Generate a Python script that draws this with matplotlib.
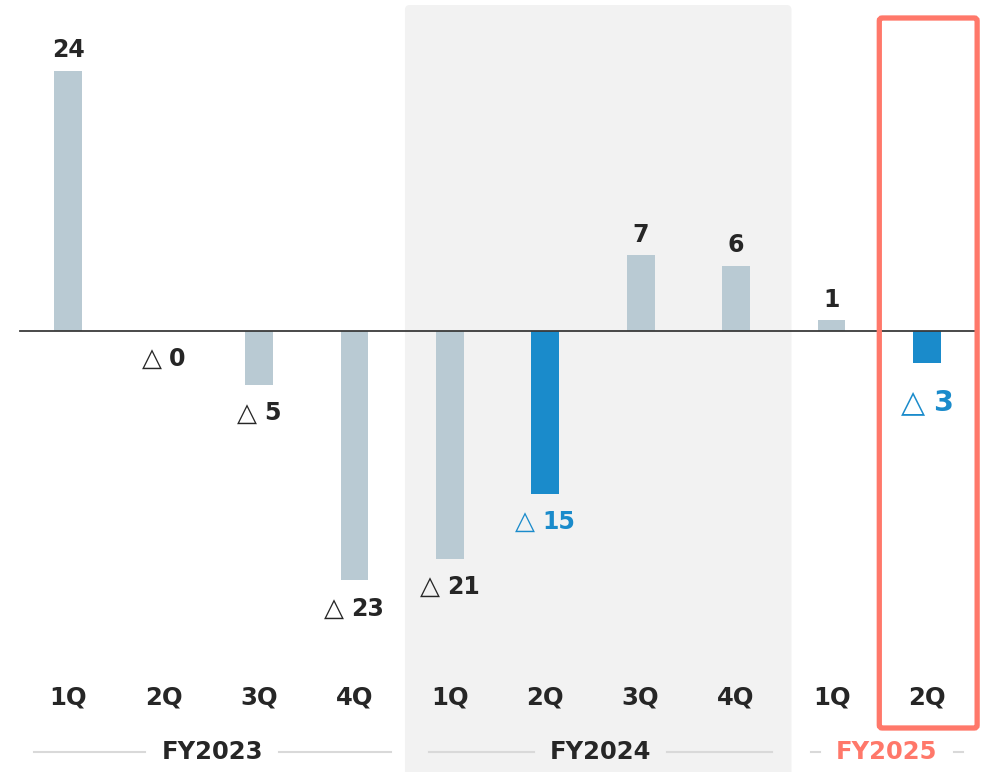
import numpy as np
import matplotlib
matplotlib.use('Agg')
import matplotlib.pyplot as plt
import matplotlib.transforms as mtransforms
from matplotlib.patches import FancyBboxPatch
from matplotlib.offsetbox import TextArea, HPacker, AnnotationBbox

# --- data ---
quarters = ['1Q', '2Q', '3Q', '4Q', '1Q', '2Q', '3Q', '4Q', '1Q', '2Q']
values = [24, -0.0, -5, -23, -21, -15, 7, 6, 1, -3]
highlight = [False, False, False, False, False, True, False, False, False, True]
fiscal_years = ['FY2023', 'FY2024', 'FY2025']
fy_first = [0, 4, 8]
fy_last = [3, 7, 9]

GRAY = '#b9cad3'
BLUE = '#1a8bcb'
DARK = '#262626'
SALMON = '#ff786a'
SHADE = '#f2f2f2'
RULE = '#d9d9d9'

plt.rcParams['font.family'] = ['DejaVu Sans']

fig = plt.figure(figsize=(9.82, 7.72), dpi=100)
ax = fig.add_axes([0, 0, 1, 1])
ax.set_xlim(-0.7125, 9.576)
ax.set_ylim(-40.65, 30.5)
ax.axis('off')

x = np.arange(len(values))
xy_blend = mtransforms.blended_transform_factory(ax.transData, ax.transAxes)

# FY2024 shaded band
px_per_x = 95.44
band = FancyBboxPatch((3.53, -0.05), 4.05, 1.05 - 5 / 772,
                      boxstyle='round,pad=0,rounding_size=0.05',
                      mutation_aspect=px_per_x / 772,
                      transform=xy_blend, facecolor=SHADE, edgecolor='none', zorder=0)
ax.add_patch(band)

# bars
colors = [BLUE if h else GRAY for h in highlight]
ax.bar(x, values, width=0.29, color=colors, zorder=2)
ax.plot([-0.5, 9.5], [0, 0], color='#3a3a3a', lw=1.3, zorder=3)

# value labels (negatives shown with a triangle, Japanese style)
for xi, v, h in zip(x, values, highlight):
    col = BLUE if h else DARK
    big = h and xi == len(values) - 1
    fs = 20.5 if big else 17
    if v > 0:
        ax.annotate(f'{v:g}', (xi, v), xytext=(0, 6), textcoords='offset points',
                    ha='center', va='bottom', fontsize=fs, fontweight='bold', color=col)
    else:
        tri = TextArea('△', textprops=dict(fontsize=fs * 1.1, color=col))
        num = TextArea(f'{abs(v):g}', textprops=dict(fontsize=fs, color=col, fontweight='bold'))
        pack = HPacker(children=[tri, num], sep=fs * 0.3, align='baseline', pad=0)
        ab = AnnotationBbox(pack, (xi, v), xybox=(0, -18 if big else -11),
                            boxcoords='offset points', box_alignment=(0.5, 1),
                            frameon=False, pad=0)
        ax.add_artist(ab)

# quarter labels
for xi, q in zip(x, quarters):
    ax.text(xi, 1 - 698 / 772, q, transform=xy_blend, ha='center', va='center',
            fontsize=17.5, fontweight='bold', color=DARK, zorder=4)

# fiscal year labels with side rules
prev_right = -10
for fy, a, b in zip(fiscal_years, fy_first, fy_last):
    left = max(a - 0.36, prev_right + 0.4)
    right = min(b + 0.38, 9.5)
    prev_right = right
    mid = (left + right) / 2
    yy = 1 - 752 / 772
    col = SALMON if fy == fiscal_years[-1] else DARK
    ax.plot([left, mid - 0.7], [yy, yy], transform=xy_blend, color=RULE, lw=1.5, zorder=1)
    ax.plot([mid + 0.7, right], [yy, yy], transform=xy_blend, color=RULE, lw=1.5, zorder=1)
    ax.text(mid, yy, fy, transform=xy_blend, ha='center', va='center',
            fontsize=17.5, fontweight='bold', color=col, zorder=4)

# highlight frame around latest quarter
frame = FancyBboxPatch((8.5, 1 - 728 / 772), 1.025, (728 - 18) / 772,
                       boxstyle='round,pad=0,rounding_size=0.03',
                       mutation_aspect=px_per_x / 772,
                       transform=xy_blend, facecolor='none', edgecolor=SALMON,
                       lw=3.8, zorder=5)
ax.add_patch(frame)

fig.savefig('out.png', dpi=100)
